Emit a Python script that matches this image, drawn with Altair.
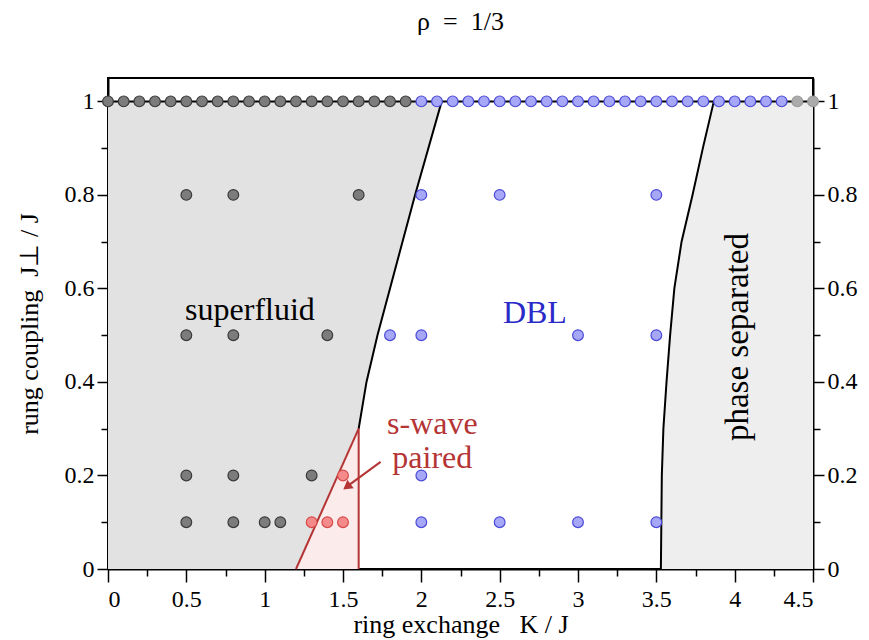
import altair as alt
import pandas as pd

# ---------------- data ----------------
# top row (J_perp = 1)
top_K_sf = [0.0, 0.1, 0.2, 0.3, 0.4, 0.5, 0.6, 0.7, 0.8, 0.9, 1.0, 1.1, 1.2, 1.3, 1.4, 1.5, 1.6, 1.7, 1.8, 1.9]
top_K_dbl = [2.0, 2.1, 2.2, 2.3, 2.4, 2.5, 2.6, 2.7, 2.8, 2.9, 3.0, 3.1, 3.2, 3.3, 3.4, 3.5,
             3.6, 3.7, 3.8, 3.9, 4.0, 4.1, 4.2, 4.3]
top_K_ps = [4.4, 4.5]

# lower rows
sf_K = [0.5, 0.8, 1.6, 0.5, 0.8, 1.4, 0.5, 0.8, 1.3, 0.5, 0.8, 1.0, 1.1]
sf_J = [0.8, 0.8, 0.8, 0.5, 0.5, 0.5, 0.2, 0.2, 0.2, 0.1, 0.1, 0.1, 0.1]
dbl_K = [2.0, 2.5, 3.5, 1.8, 2.0, 3.0, 3.5, 2.0, 2.0, 2.5, 3.0, 3.5]
dbl_J = [0.8, 0.8, 0.8, 0.5, 0.5, 0.5, 0.5, 0.2, 0.1, 0.1, 0.1, 0.1]
sw_K = [1.5, 1.3, 1.4, 1.5]
sw_J = [0.2, 0.1, 0.1, 0.1]

# phase boundaries
sf_bound_J = [0.0, 0.3, 0.4, 0.5, 0.6, 0.8, 1.0]
sf_bound_K = [1.2, 1.6, 1.65, 1.72, 1.80, 1.96, 2.13]
ps_bound_J = [0.0, 0.1, 0.2, 0.3, 0.4, 0.5, 0.6, 0.7, 0.8, 0.9, 1.0]
ps_bound_K = [3.529, 3.532, 3.535, 3.545, 3.565, 3.588, 3.615, 3.661, 3.731, 3.797, 3.867]

x_ticks = [0, 0.25, 0.5, 0.75, 1, 1.25, 1.5, 1.75, 2, 2.25, 2.5, 2.75, 3, 3.25, 3.5, 3.75, 4, 4.25, 4.5]
y_ticks = [0, 0.1, 0.2, 0.3, 0.4, 0.5, 0.6, 0.7, 0.8, 0.9, 1.0]

FONT = "Liberation Serif"
RED = "#b53535"
NB = "\u00a0"

# ---------------- frames ----------------
pts = pd.DataFrame(
    [{"K": k, "J": 1.0, "phase": "sf"} for k in top_K_sf]
    + [{"K": k, "J": 1.0, "phase": "dbl"} for k in top_K_dbl]
    + [{"K": k, "J": 1.0, "phase": "ps"} for k in top_K_ps]
    + [{"K": k, "J": j, "phase": "sf"} for k, j in zip(sf_K, sf_J)]
    + [{"K": k, "J": j, "phase": "dbl"} for k, j in zip(dbl_K, dbl_J)]
    + [{"K": k, "J": j, "phase": "sw"} for k, j in zip(sw_K, sw_J)]
)

sf_area = pd.DataFrame({"K": sf_bound_K, "J": sf_bound_J, "K0": 0.0})
ps_area = pd.DataFrame({"K": ps_bound_K, "J": ps_bound_J, "K0": 4.5})
sw_area = pd.DataFrame({"K": sf_bound_K[:2], "J": sf_bound_J[:2], "K0": sf_bound_K[1]})

black_lines = pd.DataFrame(
    [{"K": k, "J": j, "g": "sf"} for k, j in zip(sf_bound_K[1:], sf_bound_J[1:])]
    + [{"K": k, "J": j, "g": "ps"} for k, j in zip(ps_bound_K, ps_bound_J)]
    + [{"K": 0.0, "J": 1.0, "g": "top"}, {"K": 4.5, "J": 1.0, "g": "top"}]
)
red_lines = pd.DataFrame(
    [{"K": k, "J": j, "g": "diag"} for k, j in zip(sf_bound_K[:2], sf_bound_J[:2])]
    + [{"K": 1.6, "J": 0.0, "g": "vert"}, {"K": 1.6, "J": 0.3, "g": "vert"}]
)

labels = pd.DataFrame({
    "K": [0.906, 2.725, 2.07, 2.07],
    "J": [0.553, 0.547, 0.31, 0.237],
    "text": ["superfluid", "DBL", "s-wave", "paired"],
    "color": ["black", "#2a2ac8", RED, RED],
})
arrow = pd.DataFrame({"K": [1.74, 1.52], "J": [0.229, 0.175]})
arrow_head = pd.DataFrame({"K": [1.525], "J": [0.176]})

xs = alt.Scale(domain=[0, 4.5], nice=False, zero=False)
ys = alt.Scale(domain=[0, 1.05], nice=False, zero=False)

X = alt.X("K:Q", scale=xs, axis=alt.Axis(
    title=f"ring exchange{NB}{NB}{NB}K / J", values=x_ticks, format=".2~f",
    labelExpr="(datum.value * 2) % 1 == 0 ? datum.label : ''",
    tickSize={"condition": {"test": "(datum.value * 2) % 1 == 0", "value": 13}, "value": 7},
    labelPadding=5, titlePadding=0))
Y = alt.Y("J:Q", scale=ys, axis=alt.Axis(
    title=f"rung coupling{NB}{NB}J⊥ / J", values=y_ticks, format=".1~f",
    labelExpr="round(datum.value * 10) % 2 == 0 ? datum.label : ''",
    tickSize={"condition": {"test": "round(datum.value * 10) % 2 == 0", "value": 11}, "value": 7},
    labelPadding=3, titlePadding=22))

sf_layer = alt.Chart(sf_area).mark_area(orient="horizontal", color="#e2e2e2").encode(
    x=X, x2="K0:Q", y=Y)
ps_layer = alt.Chart(ps_area).mark_area(orient="horizontal", color="#eeeeee").encode(
    x=X, x2="K0:Q", y=Y)
sw_layer = alt.Chart(sw_area).mark_area(orient="horizontal", color="#fcebeb").encode(
    x=X, x2="K0:Q", y=Y)

bl_layer = alt.Chart(black_lines).mark_line(color="black", strokeWidth=2).encode(
    x=X, y=Y, detail="g:N", order="J:Q")
rl_layer = alt.Chart(red_lines).mark_line(color=RED, strokeWidth=2).encode(
    x=X, y=Y, detail="g:N", order="J:Q")

pt_layer = alt.Chart(pts).mark_point(filled=True, size=115, strokeWidth=1.2, opacity=1).encode(
    x=X, y=Y,
    fill=alt.Fill("phase:N", legend=None, scale=alt.Scale(
        domain=["sf", "dbl", "ps", "sw"], range=["#7c7c7c", "#a7a7f7", "#ababab", "#f58a8a"])),
    stroke=alt.Stroke("phase:N", legend=None, scale=alt.Scale(
        domain=["sf", "dbl", "ps", "sw"], range=["#3a3a3a", "#4a4ad8", "#9a9a9a", "#d84a4a"])),
)

txt_layer = alt.Chart(labels).mark_text(font=FONT, fontSize=32, baseline="middle").encode(
    x=X, y=Y, text="text:N", color=alt.Color("color:N", scale=None))
ps_txt = alt.Chart(pd.DataFrame({"K": [4.02], "J": [0.496], "t": ["phase separated"]})).mark_text(
    font=FONT, fontSize=33, angle=270, baseline="middle", color="black").encode(
    x=X, y=Y, text="t:N")

arr_layer = alt.Chart(arrow).mark_line(color=RED, strokeWidth=2).encode(x=X, y=Y)
head_layer = alt.Chart(arrow_head).mark_point(
    shape="triangle-up", filled=True, color=RED, size=110, angle=233, opacity=1).encode(x=X, y=Y)

title_layer = alt.Chart(pd.DataFrame({"t": [f"ρ{NB}{NB}={NB}{NB}1/3"]})).mark_text(
    font=FONT, fontSize=26, baseline="alphabetic", align="center", color="black").encode(
    x=alt.value(352.5), y=alt.value(-48), text="t:N")

main = alt.layer(sf_layer, ps_layer, sw_layer, bl_layer, rl_layer, arr_layer, head_layer,
                 pt_layer, txt_layer, ps_txt, title_layer)

right = alt.Chart(pd.DataFrame({"K": [0.0], "J": [0.0]})).mark_point(opacity=0).encode(
    x=X,
    y=alt.Y("J:Q", scale=ys, axis=alt.Axis(
        orient="right", title=None, values=y_ticks, format=".1~f",
        labelExpr="round(datum.value * 10) % 2 == 0 ? datum.label : ''",
        tickSize={"condition": {"test": "round(datum.value * 10) % 2 == 0", "value": 11}, "value": 7},
        labelPadding=3)))

chart = alt.layer(main, right).resolve_scale(y="independent").properties(
    width=705, height=491,
    autosize=alt.AutoSizeParams(type="none"),
    padding={"left": 100, "top": 70, "right": 48, "bottom": 70},
).configure_view(stroke="black", strokeWidth=2).configure_axis(
    grid=False, domainColor="black", domainWidth=2, tickColor="black", tickWidth=1.5,
    labelFont=FONT, labelFontSize=24, labelColor="black",
    titleFont=FONT, titleFontSize=26, titleFontWeight="normal", titleColor="black",
)

chart.save("out.html", embed_options={"renderer": "svg", "actions": False})
